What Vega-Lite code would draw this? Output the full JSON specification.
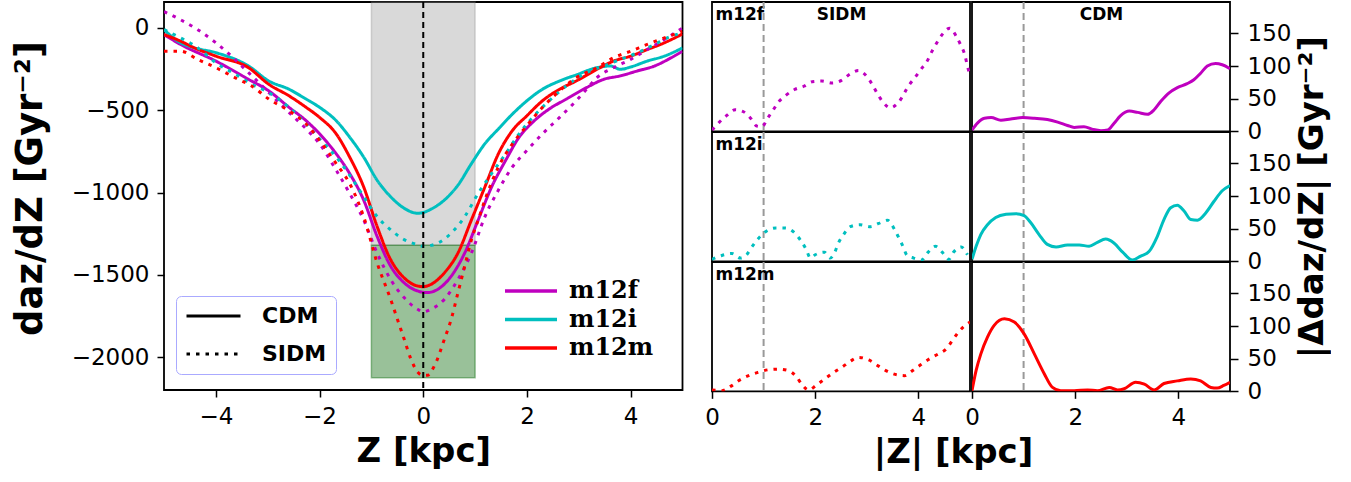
{
  "$schema": "https://vega.github.io/schema/vega-lite/v6.json",
  "background": "white",
  "padding": {"left": 10, "top": 0, "right": 0, "bottom": 0},
  "config": {
    "font": "DejaVu Sans",
    "view": {"stroke": "black", "strokeWidth": 1.8},
    "axis": {
      "grid": false, "domain": false,
      "tickColor": "black", "tickWidth": 1.5, "tickSize": 7,
      "labelFont": "DejaVu Sans", "labelFontSize": 23, "labelColor": "black",
      "labelPadding": 8, "labelFlush": false,
      "titleFont": "DejaVu Sans", "titleFontSize": 34, "titleFontWeight": "bold", "titleColor": "black"
    },
    "legend": {"title": null}
  },
  "datasets": {
    "bands": [
      {"band": "outer", "z": -1, "z_end": 1, "acc": -1320, "acc_end": 158},
      {"band": "inner", "z": -1, "z_end": 1, "acc": -2125, "acc_end": -1320}
    ],
    "midplane": [{"z": 0}],
    "cut": [{"z": 1}],
    "profile": [
      {"h":"m12f","m":"CDM","z":-5,"acc":-40},{"h":"m12f","m":"CDM","z":-4.68,"acc":-100},{"h":"m12f","m":"CDM","z":-4,"acc":-201},{"h":"m12f","m":"CDM","z":-3.37,"acc":-312},{"h":"m12f","m":"CDM","z":-2.98,"acc":-382},{"h":"m12f","m":"CDM","z":-2.59,"acc":-482},{"h":"m12f","m":"CDM","z":-2.26,"acc":-563},{"h":"m12f","m":"CDM","z":-2,"acc":-643},{"h":"m12f","m":"CDM","z":-1.68,"acc":-764},{"h":"m12f","m":"CDM","z":-1.42,"acc":-884},{"h":"m12f","m":"CDM","z":-1.15,"acc":-1045},{"h":"m12f","m":"CDM","z":-0.89,"acc":-1266},{"h":"m12f","m":"CDM","z":-0.63,"acc":-1447},{"h":"m12f","m":"CDM","z":-0.37,"acc":-1548},{"h":"m12f","m":"CDM","z":-0.11,"acc":-1598},{"h":"m12f","m":"CDM","z":0.08,"acc":-1608},{"h":"m12f","m":"CDM","z":0.28,"acc":-1588},{"h":"m12f","m":"CDM","z":0.54,"acc":-1508},{"h":"m12f","m":"CDM","z":0.8,"acc":-1367},{"h":"m12f","m":"CDM","z":1.06,"acc":-1166},{"h":"m12f","m":"CDM","z":1.32,"acc":-965},{"h":"m12f","m":"CDM","z":1.59,"acc":-804},{"h":"m12f","m":"CDM","z":1.85,"acc":-663},{"h":"m12f","m":"CDM","z":2.11,"acc":-573},{"h":"m12f","m":"CDM","z":2.43,"acc":-492},{"h":"m12f","m":"CDM","z":2.76,"acc":-432},{"h":"m12f","m":"CDM","z":3.15,"acc":-362},{"h":"m12f","m":"CDM","z":3.48,"acc":-312},{"h":"m12f","m":"CDM","z":3.8,"acc":-291},{"h":"m12f","m":"CDM","z":4.13,"acc":-261},{"h":"m12f","m":"CDM","z":4.46,"acc":-231},{"h":"m12f","m":"CDM","z":4.78,"acc":-181},{"h":"m12f","m":"CDM","z":5,"acc":-141},
      {"h":"m12i","m":"CDM","z":-5,"acc":-10},{"h":"m12i","m":"CDM","z":-4.68,"acc":-90},{"h":"m12i","m":"CDM","z":-4.42,"acc":-120},{"h":"m12i","m":"CDM","z":-4,"acc":-150},{"h":"m12i","m":"CDM","z":-3.37,"acc":-231},{"h":"m12i","m":"CDM","z":-2.98,"acc":-322},{"h":"m12i","m":"CDM","z":-2.59,"acc":-372},{"h":"m12i","m":"CDM","z":-2.26,"acc":-432},{"h":"m12i","m":"CDM","z":-2,"acc":-482},{"h":"m12i","m":"CDM","z":-1.68,"acc":-563},{"h":"m12i","m":"CDM","z":-1.42,"acc":-663},{"h":"m12i","m":"CDM","z":-1.15,"acc":-784},{"h":"m12i","m":"CDM","z":-0.89,"acc":-925},{"h":"m12i","m":"CDM","z":-0.63,"acc":-1025},{"h":"m12i","m":"CDM","z":-0.37,"acc":-1095},{"h":"m12i","m":"CDM","z":-0.11,"acc":-1126},{"h":"m12i","m":"CDM","z":0,"acc":-1121},{"h":"m12i","m":"CDM","z":0.15,"acc":-1101},{"h":"m12i","m":"CDM","z":0.41,"acc":-1045},{"h":"m12i","m":"CDM","z":0.67,"acc":-955},{"h":"m12i","m":"CDM","z":0.93,"acc":-824},{"h":"m12i","m":"CDM","z":1.19,"acc":-703},{"h":"m12i","m":"CDM","z":1.45,"acc":-613},{"h":"m12i","m":"CDM","z":1.72,"acc":-523},{"h":"m12i","m":"CDM","z":2,"acc":-442},{"h":"m12i","m":"CDM","z":2.3,"acc":-372},{"h":"m12i","m":"CDM","z":2.63,"acc":-322},{"h":"m12i","m":"CDM","z":2.95,"acc":-285},{"h":"m12i","m":"CDM","z":3.35,"acc":-241},{"h":"m12i","m":"CDM","z":3.61,"acc":-231},{"h":"m12i","m":"CDM","z":3.8,"acc":-251},{"h":"m12i","m":"CDM","z":4,"acc":-237},{"h":"m12i","m":"CDM","z":4.32,"acc":-201},{"h":"m12i","m":"CDM","z":4.65,"acc":-171},{"h":"m12i","m":"CDM","z":5,"acc":-121},
      {"h":"m12m","m":"CDM","z":-5,"acc":-40},{"h":"m12m","m":"CDM","z":-4.68,"acc":-80},{"h":"m12m","m":"CDM","z":-4.42,"acc":-120},{"h":"m12m","m":"CDM","z":-4,"acc":-171},{"h":"m12m","m":"CDM","z":-3.37,"acc":-241},{"h":"m12m","m":"CDM","z":-2.98,"acc":-342},{"h":"m12m","m":"CDM","z":-2.59,"acc":-412},{"h":"m12m","m":"CDM","z":-2.26,"acc":-482},{"h":"m12m","m":"CDM","z":-2,"acc":-543},{"h":"m12m","m":"CDM","z":-1.68,"acc":-643},{"h":"m12m","m":"CDM","z":-1.42,"acc":-784},{"h":"m12m","m":"CDM","z":-1.15,"acc":-965},{"h":"m12m","m":"CDM","z":-0.89,"acc":-1206},{"h":"m12m","m":"CDM","z":-0.63,"acc":-1407},{"h":"m12m","m":"CDM","z":-0.37,"acc":-1518},{"h":"m12m","m":"CDM","z":-0.11,"acc":-1568},{"h":"m12m","m":"CDM","z":0,"acc":-1572},{"h":"m12m","m":"CDM","z":0.15,"acc":-1558},{"h":"m12m","m":"CDM","z":0.41,"acc":-1487},{"h":"m12m","m":"CDM","z":0.67,"acc":-1367},{"h":"m12m","m":"CDM","z":0.93,"acc":-1166},{"h":"m12m","m":"CDM","z":1.19,"acc":-965},{"h":"m12m","m":"CDM","z":1.45,"acc":-764},{"h":"m12m","m":"CDM","z":1.72,"acc":-623},{"h":"m12m","m":"CDM","z":2,"acc":-533},{"h":"m12m","m":"CDM","z":2.3,"acc":-442},{"h":"m12m","m":"CDM","z":2.63,"acc":-372},{"h":"m12m","m":"CDM","z":2.95,"acc":-322},{"h":"m12m","m":"CDM","z":3.35,"acc":-251},{"h":"m12m","m":"CDM","z":3.67,"acc":-201},{"h":"m12m","m":"CDM","z":4,"acc":-171},{"h":"m12m","m":"CDM","z":4.32,"acc":-131},{"h":"m12m","m":"CDM","z":4.65,"acc":-90},{"h":"m12m","m":"CDM","z":5,"acc":-36},
      {"h":"m12f","m":"SIDM","z":-5,"acc":100},{"h":"m12f","m":"SIDM","z":-4.68,"acc":50},{"h":"m12f","m":"SIDM","z":-4.35,"acc":-10},{"h":"m12f","m":"SIDM","z":-4,"acc":-90},{"h":"m12f","m":"SIDM","z":-3.7,"acc":-171},{"h":"m12f","m":"SIDM","z":-3.37,"acc":-271},{"h":"m12f","m":"SIDM","z":-2.98,"acc":-392},{"h":"m12f","m":"SIDM","z":-2.59,"acc":-513},{"h":"m12f","m":"SIDM","z":-2.26,"acc":-613},{"h":"m12f","m":"SIDM","z":-2,"acc":-704},{"h":"m12f","m":"SIDM","z":-1.68,"acc":-864},{"h":"m12f","m":"SIDM","z":-1.42,"acc":-1005},{"h":"m12f","m":"SIDM","z":-1.15,"acc":-1166},{"h":"m12f","m":"SIDM","z":-0.89,"acc":-1367},{"h":"m12f","m":"SIDM","z":-0.63,"acc":-1528},{"h":"m12f","m":"SIDM","z":-0.37,"acc":-1638},{"h":"m12f","m":"SIDM","z":-0.11,"acc":-1709},{"h":"m12f","m":"SIDM","z":0,"acc":-1725},{"h":"m12f","m":"SIDM","z":0.15,"acc":-1709},{"h":"m12f","m":"SIDM","z":0.41,"acc":-1648},{"h":"m12f","m":"SIDM","z":0.67,"acc":-1528},{"h":"m12f","m":"SIDM","z":0.93,"acc":-1367},{"h":"m12f","m":"SIDM","z":1.19,"acc":-1146},{"h":"m12f","m":"SIDM","z":1.45,"acc":-985},{"h":"m12f","m":"SIDM","z":1.72,"acc":-844},{"h":"m12f","m":"SIDM","z":2,"acc":-744},{"h":"m12f","m":"SIDM","z":2.3,"acc":-643},{"h":"m12f","m":"SIDM","z":2.63,"acc":-543},{"h":"m12f","m":"SIDM","z":2.95,"acc":-442},{"h":"m12f","m":"SIDM","z":3.15,"acc":-372},{"h":"m12f","m":"SIDM","z":3.35,"acc":-302},{"h":"m12f","m":"SIDM","z":3.67,"acc":-241},{"h":"m12f","m":"SIDM","z":4,"acc":-191},{"h":"m12f","m":"SIDM","z":4.32,"acc":-131},{"h":"m12f","m":"SIDM","z":4.65,"acc":-70},{"h":"m12f","m":"SIDM","z":5,"acc":0},
      {"h":"m12i","m":"SIDM","z":-5,"acc":-10},{"h":"m12i","m":"SIDM","z":-4.68,"acc":-60},{"h":"m12i","m":"SIDM","z":-4.35,"acc":-120},{"h":"m12i","m":"SIDM","z":-4,"acc":-211},{"h":"m12i","m":"SIDM","z":-3.57,"acc":-291},{"h":"m12i","m":"SIDM","z":-3.31,"acc":-342},{"h":"m12i","m":"SIDM","z":-2.98,"acc":-392},{"h":"m12i","m":"SIDM","z":-2.59,"acc":-482},{"h":"m12i","m":"SIDM","z":-2.26,"acc":-583},{"h":"m12i","m":"SIDM","z":-2,"acc":-673},{"h":"m12i","m":"SIDM","z":-1.68,"acc":-784},{"h":"m12i","m":"SIDM","z":-1.42,"acc":-894},{"h":"m12i","m":"SIDM","z":-1.15,"acc":-1025},{"h":"m12i","m":"SIDM","z":-0.89,"acc":-1146},{"h":"m12i","m":"SIDM","z":-0.63,"acc":-1226},{"h":"m12i","m":"SIDM","z":-0.37,"acc":-1286},{"h":"m12i","m":"SIDM","z":-0.11,"acc":-1317},{"h":"m12i","m":"SIDM","z":0,"acc":-1327},{"h":"m12i","m":"SIDM","z":0.28,"acc":-1307},{"h":"m12i","m":"SIDM","z":0.54,"acc":-1246},{"h":"m12i","m":"SIDM","z":0.8,"acc":-1146},{"h":"m12i","m":"SIDM","z":1.06,"acc":-1005},{"h":"m12i","m":"SIDM","z":1.32,"acc":-884},{"h":"m12i","m":"SIDM","z":1.59,"acc":-764},{"h":"m12i","m":"SIDM","z":1.85,"acc":-643},{"h":"m12i","m":"SIDM","z":2.11,"acc":-543},{"h":"m12i","m":"SIDM","z":2.43,"acc":-442},{"h":"m12i","m":"SIDM","z":2.76,"acc":-352},{"h":"m12i","m":"SIDM","z":3.15,"acc":-271},{"h":"m12i","m":"SIDM","z":3.48,"acc":-231},{"h":"m12i","m":"SIDM","z":3.8,"acc":-191},{"h":"m12i","m":"SIDM","z":4.13,"acc":-151},{"h":"m12i","m":"SIDM","z":4.46,"acc":-100},{"h":"m12i","m":"SIDM","z":4.78,"acc":-50},{"h":"m12i","m":"SIDM","z":5,"acc":-30},
      {"h":"m12m","m":"SIDM","z":-5,"acc":-141},{"h":"m12m","m":"SIDM","z":-4.68,"acc":-141},{"h":"m12m","m":"SIDM","z":-4.35,"acc":-191},{"h":"m12m","m":"SIDM","z":-4,"acc":-241},{"h":"m12m","m":"SIDM","z":-3.57,"acc":-312},{"h":"m12m","m":"SIDM","z":-3.31,"acc":-352},{"h":"m12m","m":"SIDM","z":-2.98,"acc":-432},{"h":"m12m","m":"SIDM","z":-2.59,"acc":-503},{"h":"m12m","m":"SIDM","z":-2.26,"acc":-583},{"h":"m12m","m":"SIDM","z":-2,"acc":-683},{"h":"m12m","m":"SIDM","z":-1.68,"acc":-824},{"h":"m12m","m":"SIDM","z":-1.42,"acc":-945},{"h":"m12m","m":"SIDM","z":-1.15,"acc":-1146},{"h":"m12m","m":"SIDM","z":-0.89,"acc":-1427},{"h":"m12m","m":"SIDM","z":-0.63,"acc":-1648},{"h":"m12m","m":"SIDM","z":-0.5,"acc":-1769},{"h":"m12m","m":"SIDM","z":-0.37,"acc":-1889},{"h":"m12m","m":"SIDM","z":-0.24,"acc":-2010},{"h":"m12m","m":"SIDM","z":-0.11,"acc":-2090},{"h":"m12m","m":"SIDM","z":0,"acc":-2111},{"h":"m12m","m":"SIDM","z":0.08,"acc":-2111},{"h":"m12m","m":"SIDM","z":0.22,"acc":-2050},{"h":"m12m","m":"SIDM","z":0.41,"acc":-1889},{"h":"m12m","m":"SIDM","z":0.54,"acc":-1769},{"h":"m12m","m":"SIDM","z":0.67,"acc":-1608},{"h":"m12m","m":"SIDM","z":0.8,"acc":-1447},{"h":"m12m","m":"SIDM","z":0.93,"acc":-1286},{"h":"m12m","m":"SIDM","z":1.06,"acc":-1166},{"h":"m12m","m":"SIDM","z":1.19,"acc":-1045},{"h":"m12m","m":"SIDM","z":1.45,"acc":-844},{"h":"m12m","m":"SIDM","z":1.72,"acc":-704},{"h":"m12m","m":"SIDM","z":2,"acc":-593},{"h":"m12m","m":"SIDM","z":2.3,"acc":-482},{"h":"m12m","m":"SIDM","z":2.63,"acc":-382},{"h":"m12m","m":"SIDM","z":2.95,"acc":-302},{"h":"m12m","m":"SIDM","z":3.35,"acc":-241},{"h":"m12m","m":"SIDM","z":3.67,"acc":-181},{"h":"m12m","m":"SIDM","z":4,"acc":-141},{"h":"m12m","m":"SIDM","z":4.32,"acc":-100},{"h":"m12m","m":"SIDM","z":4.65,"acc":-60},{"h":"m12m","m":"SIDM","z":5,"acc":-20}
    ],
    "residual": [
      {"h":"m12f","m":"SIDM","z":0,"d":2},{"h":"m12f","m":"SIDM","z":0.13,"d":13},{"h":"m12f","m":"SIDM","z":0.28,"d":24},{"h":"m12f","m":"SIDM","z":0.45,"d":33},{"h":"m12f","m":"SIDM","z":0.61,"d":30},{"h":"m12f","m":"SIDM","z":0.76,"d":19},{"h":"m12f","m":"SIDM","z":0.87,"d":8},{"h":"m12f","m":"SIDM","z":0.97,"d":7},{"h":"m12f","m":"SIDM","z":1.07,"d":19},{"h":"m12f","m":"SIDM","z":1.18,"d":32},{"h":"m12f","m":"SIDM","z":1.29,"d":45},{"h":"m12f","m":"SIDM","z":1.43,"d":55},{"h":"m12f","m":"SIDM","z":1.6,"d":64},{"h":"m12f","m":"SIDM","z":1.78,"d":69},{"h":"m12f","m":"SIDM","z":1.94,"d":76},{"h":"m12f","m":"SIDM","z":2.13,"d":77},{"h":"m12f","m":"SIDM","z":2.33,"d":74},{"h":"m12f","m":"SIDM","z":2.51,"d":78},{"h":"m12f","m":"SIDM","z":2.68,"d":88},{"h":"m12f","m":"SIDM","z":2.84,"d":93},{"h":"m12f","m":"SIDM","z":3.0,"d":84},{"h":"m12f","m":"SIDM","z":3.11,"d":71},{"h":"m12f","m":"SIDM","z":3.21,"d":57},{"h":"m12f","m":"SIDM","z":3.31,"d":45},{"h":"m12f","m":"SIDM","z":3.46,"d":36},{"h":"m12f","m":"SIDM","z":3.62,"d":45},{"h":"m12f","m":"SIDM","z":3.82,"d":71},{"h":"m12f","m":"SIDM","z":3.94,"d":83},{"h":"m12f","m":"SIDM","z":4.06,"d":96},{"h":"m12f","m":"SIDM","z":4.18,"d":109},{"h":"m12f","m":"SIDM","z":4.26,"d":122},{"h":"m12f","m":"SIDM","z":4.36,"d":136},{"h":"m12f","m":"SIDM","z":4.46,"d":148},{"h":"m12f","m":"SIDM","z":4.61,"d":158},{"h":"m12f","m":"SIDM","z":4.73,"d":146},{"h":"m12f","m":"SIDM","z":4.82,"d":132},{"h":"m12f","m":"SIDM","z":4.9,"d":117},{"h":"m12f","m":"SIDM","z":4.95,"d":100},{"h":"m12f","m":"SIDM","z":5,"d":86},
      {"h":"m12i","m":"SIDM","z":0,"d":3},{"h":"m12i","m":"SIDM","z":0.19,"d":9},{"h":"m12i","m":"SIDM","z":0.39,"d":12},{"h":"m12i","m":"SIDM","z":0.55,"d":5},{"h":"m12i","m":"SIDM","z":0.67,"d":10},{"h":"m12i","m":"SIDM","z":0.78,"d":23},{"h":"m12i","m":"SIDM","z":0.9,"d":35},{"h":"m12i","m":"SIDM","z":1.03,"d":45},{"h":"m12i","m":"SIDM","z":1.24,"d":51},{"h":"m12i","m":"SIDM","z":1.42,"d":51},{"h":"m12i","m":"SIDM","z":1.58,"d":45},{"h":"m12i","m":"SIDM","z":1.71,"d":33},{"h":"m12i","m":"SIDM","z":1.82,"d":19},{"h":"m12i","m":"SIDM","z":1.91,"d":5},{"h":"m12i","m":"SIDM","z":2.0,"d":10},{"h":"m12i","m":"SIDM","z":2.18,"d":14},{"h":"m12i","m":"SIDM","z":2.29,"d":5},{"h":"m12i","m":"SIDM","z":2.38,"d":14},{"h":"m12i","m":"SIDM","z":2.45,"d":28},{"h":"m12i","m":"SIDM","z":2.55,"d":41},{"h":"m12i","m":"SIDM","z":2.68,"d":53},{"h":"m12i","m":"SIDM","z":2.87,"d":56},{"h":"m12i","m":"SIDM","z":3.07,"d":53},{"h":"m12i","m":"SIDM","z":3.23,"d":58},{"h":"m12i","m":"SIDM","z":3.4,"d":63},{"h":"m12i","m":"SIDM","z":3.53,"d":50},{"h":"m12i","m":"SIDM","z":3.62,"d":36},{"h":"m12i","m":"SIDM","z":3.7,"d":23},{"h":"m12i","m":"SIDM","z":3.78,"d":9},{"h":"m12i","m":"SIDM","z":3.91,"d":5},{"h":"m12i","m":"SIDM","z":4.06,"d":2},{"h":"m12i","m":"SIDM","z":4.19,"d":14},{"h":"m12i","m":"SIDM","z":4.33,"d":23},{"h":"m12i","m":"SIDM","z":4.46,"d":14},{"h":"m12i","m":"SIDM","z":4.59,"d":3},{"h":"m12i","m":"SIDM","z":4.68,"d":14},{"h":"m12i","m":"SIDM","z":4.83,"d":22},{"h":"m12i","m":"SIDM","z":4.95,"d":10},
      {"h":"m12m","m":"SIDM","z":0,"d":2},{"h":"m12m","m":"SIDM","z":0.19,"d":1},{"h":"m12m","m":"SIDM","z":0.37,"d":8},{"h":"m12m","m":"SIDM","z":0.53,"d":17},{"h":"m12m","m":"SIDM","z":0.71,"d":24},{"h":"m12m","m":"SIDM","z":0.89,"d":29},{"h":"m12m","m":"SIDM","z":1.09,"d":33},{"h":"m12m","m":"SIDM","z":1.28,"d":34},{"h":"m12m","m":"SIDM","z":1.47,"d":32},{"h":"m12m","m":"SIDM","z":1.63,"d":23},{"h":"m12m","m":"SIDM","z":1.74,"d":11},{"h":"m12m","m":"SIDM","z":1.87,"d":2},{"h":"m12m","m":"SIDM","z":2.03,"d":10},{"h":"m12m","m":"SIDM","z":2.2,"d":20},{"h":"m12m","m":"SIDM","z":2.36,"d":29},{"h":"m12m","m":"SIDM","z":2.52,"d":37},{"h":"m12m","m":"SIDM","z":2.68,"d":46},{"h":"m12m","m":"SIDM","z":2.84,"d":52},{"h":"m12m","m":"SIDM","z":3.04,"d":48},{"h":"m12m","m":"SIDM","z":3.22,"d":39},{"h":"m12m","m":"SIDM","z":3.39,"d":31},{"h":"m12m","m":"SIDM","z":3.55,"d":26},{"h":"m12m","m":"SIDM","z":3.73,"d":24},{"h":"m12m","m":"SIDM","z":3.89,"d":32},{"h":"m12m","m":"SIDM","z":4.05,"d":41},{"h":"m12m","m":"SIDM","z":4.22,"d":50},{"h":"m12m","m":"SIDM","z":4.38,"d":57},{"h":"m12m","m":"SIDM","z":4.54,"d":65},{"h":"m12m","m":"SIDM","z":4.66,"d":78},{"h":"m12m","m":"SIDM","z":4.78,"d":91},{"h":"m12m","m":"SIDM","z":4.94,"d":103},{"h":"m12m","m":"SIDM","z":5,"d":106},
      {"h":"m12f","m":"CDM","z":0,"d":2},{"h":"m12f","m":"CDM","z":0.11,"d":13},{"h":"m12f","m":"CDM","z":0.24,"d":20},{"h":"m12f","m":"CDM","z":0.37,"d":21},{"h":"m12f","m":"CDM","z":0.56,"d":17},{"h":"m12f","m":"CDM","z":0.75,"d":19},{"h":"m12f","m":"CDM","z":0.98,"d":21},{"h":"m12f","m":"CDM","z":1.21,"d":20},{"h":"m12f","m":"CDM","z":1.46,"d":18},{"h":"m12f","m":"CDM","z":1.66,"d":14},{"h":"m12f","m":"CDM","z":1.85,"d":9},{"h":"m12f","m":"CDM","z":1.98,"d":6},{"h":"m12f","m":"CDM","z":2.17,"d":7},{"h":"m12f","m":"CDM","z":2.34,"d":3},{"h":"m12f","m":"CDM","z":2.5,"d":1},{"h":"m12f","m":"CDM","z":2.63,"d":2},{"h":"m12f","m":"CDM","z":2.75,"d":12},{"h":"m12f","m":"CDM","z":2.88,"d":24},{"h":"m12f","m":"CDM","z":3.05,"d":31},{"h":"m12f","m":"CDM","z":3.21,"d":29},{"h":"m12f","m":"CDM","z":3.4,"d":26},{"h":"m12f","m":"CDM","z":3.53,"d":33},{"h":"m12f","m":"CDM","z":3.66,"d":46},{"h":"m12f","m":"CDM","z":3.82,"d":59},{"h":"m12f","m":"CDM","z":3.98,"d":67},{"h":"m12f","m":"CDM","z":4.17,"d":73},{"h":"m12f","m":"CDM","z":4.3,"d":79},{"h":"m12f","m":"CDM","z":4.43,"d":89},{"h":"m12f","m":"CDM","z":4.56,"d":100},{"h":"m12f","m":"CDM","z":4.72,"d":104},{"h":"m12f","m":"CDM","z":4.85,"d":102},{"h":"m12f","m":"CDM","z":5,"d":96},
      {"h":"m12i","m":"CDM","z":0,"d":3},{"h":"m12i","m":"CDM","z":0.08,"d":23},{"h":"m12i","m":"CDM","z":0.17,"d":41},{"h":"m12i","m":"CDM","z":0.3,"d":56},{"h":"m12i","m":"CDM","z":0.46,"d":67},{"h":"m12i","m":"CDM","z":0.66,"d":72},{"h":"m12i","m":"CDM","z":0.85,"d":73},{"h":"m12i","m":"CDM","z":1.01,"d":70},{"h":"m12i","m":"CDM","z":1.14,"d":59},{"h":"m12i","m":"CDM","z":1.3,"d":41},{"h":"m12i","m":"CDM","z":1.46,"d":26},{"h":"m12i","m":"CDM","z":1.63,"d":22},{"h":"m12i","m":"CDM","z":1.85,"d":25},{"h":"m12i","m":"CDM","z":2.08,"d":25},{"h":"m12i","m":"CDM","z":2.27,"d":23},{"h":"m12i","m":"CDM","z":2.43,"d":29},{"h":"m12i","m":"CDM","z":2.59,"d":34},{"h":"m12i","m":"CDM","z":2.75,"d":28},{"h":"m12i","m":"CDM","z":2.92,"d":14},{"h":"m12i","m":"CDM","z":3.11,"d":2},{"h":"m12i","m":"CDM","z":3.27,"d":8},{"h":"m12i","m":"CDM","z":3.43,"d":15},{"h":"m12i","m":"CDM","z":3.59,"d":38},{"h":"m12i","m":"CDM","z":3.72,"d":64},{"h":"m12i","m":"CDM","z":3.85,"d":82},{"h":"m12i","m":"CDM","z":3.98,"d":86},{"h":"m12i","m":"CDM","z":4.11,"d":77},{"h":"m12i","m":"CDM","z":4.24,"d":64},{"h":"m12i","m":"CDM","z":4.37,"d":63},{"h":"m12i","m":"CDM","z":4.53,"d":74},{"h":"m12i","m":"CDM","z":4.69,"d":92},{"h":"m12i","m":"CDM","z":4.85,"d":108},{"h":"m12i","m":"CDM","z":5,"d":116},
      {"h":"m12m","m":"CDM","z":0,"d":1},{"h":"m12m","m":"CDM","z":0.08,"d":32},{"h":"m12m","m":"CDM","z":0.17,"d":57},{"h":"m12m","m":"CDM","z":0.3,"d":83},{"h":"m12m","m":"CDM","z":0.43,"d":101},{"h":"m12m","m":"CDM","z":0.63,"d":111},{"h":"m12m","m":"CDM","z":0.82,"d":106},{"h":"m12m","m":"CDM","z":1.01,"d":88},{"h":"m12m","m":"CDM","z":1.21,"d":57},{"h":"m12m","m":"CDM","z":1.4,"d":27},{"h":"m12m","m":"CDM","z":1.56,"d":6},{"h":"m12m","m":"CDM","z":1.72,"d":1},{"h":"m12m","m":"CDM","z":1.98,"d":1},{"h":"m12m","m":"CDM","z":2.24,"d":2},{"h":"m12m","m":"CDM","z":2.43,"d":1},{"h":"m12m","m":"CDM","z":2.66,"d":6},{"h":"m12m","m":"CDM","z":2.82,"d":2},{"h":"m12m","m":"CDM","z":2.95,"d":4},{"h":"m12m","m":"CDM","z":3.17,"d":14},{"h":"m12m","m":"CDM","z":3.34,"d":11},{"h":"m12m","m":"CDM","z":3.53,"d":2},{"h":"m12m","m":"CDM","z":3.72,"d":12},{"h":"m12m","m":"CDM","z":3.98,"d":16},{"h":"m12m","m":"CDM","z":4.24,"d":19},{"h":"m12m","m":"CDM","z":4.43,"d":16},{"h":"m12m","m":"CDM","z":4.63,"d":6},{"h":"m12m","m":"CDM","z":4.75,"d":5},{"h":"m12m","m":"CDM","z":4.88,"d":9},{"h":"m12m","m":"CDM","z":5,"d":14}
    ]
  },
  "spacing": 19,
  "hconcat": [
    {
      "width": 518.5,
      "height": 388,
      "layer": [
        {
          "data": {"name": "bands"},
          "transform": [{"filter": "datum.band === 'outer'"}],
          "mark": {"type": "rect", "fill": "#808080", "fillOpacity": 0.3, "stroke": "#808080", "strokeOpacity": 0.3, "strokeWidth": 1.5},
          "encoding": {
            "x": {"field": "z", "type": "quantitative", "scale": {"domain": [-5, 5], "nice": false, "zero": false}, "axis": {"title": "Z [kpc]"}},
            "x2": {"field": "z_end"},
            "y": {"field": "acc", "type": "quantitative", "scale": {"domain": [-2200, 158], "nice": false, "zero": false}, "axis": {"title": "daz/dZ [Gyr⁻²]"}},
            "y2": {"field": "acc_end"}
          }
        },
        {
          "data": {"name": "bands"},
          "transform": [{"filter": "datum.band === 'inner'"}],
          "mark": {"type": "rect", "fill": "#006400", "fillOpacity": 0.4, "stroke": "#006400", "strokeOpacity": 0.4, "strokeWidth": 1.5},
          "encoding": {
            "x": {"field": "z", "type": "quantitative", "axis": {"title": "Z [kpc]"}},
            "x2": {"field": "z_end"},
            "y": {"field": "acc", "type": "quantitative", "axis": {"title": "daz/dZ [Gyr⁻²]"}},
            "y2": {"field": "acc_end"}
          }
        },
        {
          "data": {"name": "profile"},
          "mark": {"type": "line", "strokeWidth": 3, "interpolate": "monotone", "clip": true, "strokeCap": "butt"},
          "encoding": {
            "x": {"field": "z", "type": "quantitative",
                  "axis": {"title": "Z [kpc]", "values": [-4, -2, 0, 2, 4], "titlePadding": 6}},
            "y": {"field": "acc", "type": "quantitative",
                  "axis": {"title": "daz/dZ [Gyr⁻²]", "values": [-2000, -1500, -1000, -500, 0], "format": "d", "titlePadding": 22, "titleFontSize": 37, "titleY": 186}},
            "color": {
              "field": "h", "type": "nominal",
              "scale": {"domain": ["m12f", "m12i", "m12m"], "range": ["#bf00bf", "#00bfbf", "#ff0000"]},
              "legend": {
                "orient": "none", "legendX": 339, "legendY": 277, "padding": 0,
                "symbolType": "stroke", "symbolSize": 2704, "symbolStrokeWidth": 3.5,
                "clipHeight": 24, "rowPadding": 4.5, "labelOffset": 10,
                "labelFont": "DejaVu Serif", "labelFontWeight": "bold", "labelFontSize": 24, "labelColor": "black"
              }
            },
            "strokeDash": {
              "field": "m", "type": "nominal",
              "scale": {"domain": ["CDM", "SIDM"], "range": [[1, 0], [3.5, 6]]},
              "legend": {
                "orient": "none", "legendX": 12, "legendY": 294, "padding": 9,
                "symbolType": "stroke", "symbolSize": 2916, "symbolStrokeWidth": 3, "symbolStrokeColor": "black",
                "clipHeight": 22, "rowPadding": 16, "labelOffset": 20,
                "labelFont": "DejaVu Sans", "labelFontWeight": "bold", "labelFontSize": 22, "labelColor": "black",
                "strokeColor": "#aaaaff", "fillColor": "white", "cornerRadius": 5
              }
            },
            "detail": {"field": "m"}
          }
        },
        {
          "data": {"name": "midplane"},
          "mark": {"type": "rule", "color": "black", "strokeWidth": 2, "strokeDash": [6, 4]},
          "encoding": {"x": {"field": "z", "type": "quantitative", "axis": {"title": "Z [kpc]"}}}
        }
      ]
    },
    {
      "columns": 2,
      "spacing": {"row": 0, "column": 2},
      "bounds": "flush",
      "concat": [
        {
          "width": 258, "height": 129.33,
          "layer": [
            {
              "data": {"name": "cut"},
              "mark": {"type": "rule", "color": "#999999", "strokeWidth": 2, "strokeDash": [7, 4]},
              "encoding": {"x": {"field": "z", "type": "quantitative", "scale": {"domain": [0, 5], "nice": false},
                "axis": {"orient": "top", "title": "SIDM", "labels": false, "ticks": false, "titleX": 129, "titleY": 17, "titleAlign": "center", "titleBaseline": "alphabetic", "titleFontSize": 17}}}
            },
            {
              "data": {"name": "residual"},
              "transform": [{"filter": "datum.h === 'm12f' && datum.m === 'SIDM'"}],
              "mark": {"type": "line", "color": "#bf00bf", "strokeWidth": 3, "strokeDash": [3.5, 6], "interpolate": "monotone", "clip": true},
              "encoding": {
                "x": {"field": "z", "type": "quantitative"},
                "y": {"field": "d", "type": "quantitative", "scale": {"domain": [0, 198], "nice": false},
                  "axis": {"orient": "left", "title": "m12f", "labels": false, "ticks": false, "titleAngle": 0, "titleX": 3, "titleY": 17, "titleAlign": "left", "titleBaseline": "alphabetic", "titleFontSize": 17}}
              }
            }
          ]
        },
        {
          "width": 258, "height": 129.33,
          "layer": [
            {
              "data": {"name": "cut"},
              "mark": {"type": "rule", "color": "#999999", "strokeWidth": 2, "strokeDash": [7, 4]},
              "encoding": {"x": {"field": "z", "type": "quantitative", "scale": {"domain": [0, 5], "nice": false},
                "axis": {"orient": "top", "title": "CDM", "labels": false, "ticks": false, "titleX": 129, "titleY": 17, "titleAlign": "center", "titleBaseline": "alphabetic", "titleFontSize": 17}}}
            },
            {
              "data": {"name": "residual"},
              "transform": [{"filter": "datum.h === 'm12f' && datum.m === 'CDM'"}],
              "mark": {"type": "line", "color": "#bf00bf", "strokeWidth": 3, "interpolate": "monotone", "clip": true},
              "encoding": {
                "x": {"field": "z", "type": "quantitative"},
                "y": {"field": "d", "type": "quantitative", "scale": {"domain": [0, 198], "nice": false},
                  "axis": {"orient": "right", "title": null, "values": [0, 50, 100, 150], "tickSize": 8, "labelPadding": 9}}
              }
            }
          ]
        },
        {
          "width": 258, "height": 129.33,
          "layer": [
            {
              "data": {"name": "cut"},
              "mark": {"type": "rule", "color": "#999999", "strokeWidth": 2, "strokeDash": [7, 4]},
              "encoding": {"x": {"field": "z", "type": "quantitative", "scale": {"domain": [0, 5], "nice": false}, "axis": null}}
            },
            {
              "data": {"name": "residual"},
              "transform": [{"filter": "datum.h === 'm12i' && datum.m === 'SIDM'"}],
              "mark": {"type": "line", "color": "#00bfbf", "strokeWidth": 3, "strokeDash": [3.5, 6], "interpolate": "monotone", "clip": true},
              "encoding": {
                "x": {"field": "z", "type": "quantitative", "axis": null},
                "y": {"field": "d", "type": "quantitative", "scale": {"domain": [0, 198], "nice": false},
                  "axis": {"orient": "left", "title": "m12i", "labels": false, "ticks": false, "titleAngle": 0, "titleX": 3, "titleY": 17, "titleAlign": "left", "titleBaseline": "alphabetic", "titleFontSize": 17}}
              }
            }
          ]
        },
        {
          "width": 258, "height": 129.33,
          "layer": [
            {
              "data": {"name": "cut"},
              "mark": {"type": "rule", "color": "#999999", "strokeWidth": 2, "strokeDash": [7, 4]},
              "encoding": {"x": {"field": "z", "type": "quantitative", "scale": {"domain": [0, 5], "nice": false}, "axis": null}}
            },
            {
              "data": {"name": "residual"},
              "transform": [{"filter": "datum.h === 'm12i' && datum.m === 'CDM'"}],
              "mark": {"type": "line", "color": "#00bfbf", "strokeWidth": 3, "interpolate": "monotone", "clip": true},
              "encoding": {
                "x": {"field": "z", "type": "quantitative", "axis": null},
                "y": {"field": "d", "type": "quantitative", "scale": {"domain": [0, 198], "nice": false},
                  "axis": {"orient": "right", "title": "|Δdaz/dZ| [Gyr⁻²]", "titleAngle": 270, "titleBaseline": "top", "titleFontSize": 34, "titlePadding": 5, "values": [0, 50, 100, 150], "tickSize": 8, "labelPadding": 9}}
              }
            }
          ]
        },
        {
          "width": 258, "height": 129.33,
          "layer": [
            {
              "data": {"name": "cut"},
              "mark": {"type": "rule", "color": "#999999", "strokeWidth": 2, "strokeDash": [7, 4]},
              "encoding": {"x": {"field": "z", "type": "quantitative", "scale": {"domain": [0, 5], "nice": false},
                "axis": {"values": [0, 2, 4], "title": "|Z| [kpc]", "titleX": 241, "titleAlign": "center", "titlePadding": 6}}}
            },
            {
              "data": {"name": "residual"},
              "transform": [{"filter": "datum.h === 'm12m' && datum.m === 'SIDM'"}],
              "mark": {"type": "line", "color": "#ff0000", "strokeWidth": 3, "strokeDash": [3.5, 6], "interpolate": "monotone", "clip": true},
              "encoding": {
                "x": {"field": "z", "type": "quantitative"},
                "y": {"field": "d", "type": "quantitative", "scale": {"domain": [0, 198], "nice": false},
                  "axis": {"orient": "left", "title": "m12m", "labels": false, "ticks": false, "titleAngle": 0, "titleX": 3, "titleY": 17, "titleAlign": "left", "titleBaseline": "alphabetic", "titleFontSize": 17}}
              }
            }
          ]
        },
        {
          "width": 258, "height": 129.33,
          "layer": [
            {
              "data": {"name": "cut"},
              "mark": {"type": "rule", "color": "#999999", "strokeWidth": 2, "strokeDash": [7, 4]},
              "encoding": {"x": {"field": "z", "type": "quantitative", "scale": {"domain": [0, 5], "nice": false},
                "axis": {"values": [0, 2, 4], "title": null}}}
            },
            {
              "data": {"name": "residual"},
              "transform": [{"filter": "datum.h === 'm12m' && datum.m === 'CDM'"}],
              "mark": {"type": "line", "color": "#ff0000", "strokeWidth": 3, "interpolate": "monotone", "clip": true},
              "encoding": {
                "x": {"field": "z", "type": "quantitative"},
                "y": {"field": "d", "type": "quantitative", "scale": {"domain": [0, 198], "nice": false},
                  "axis": {"orient": "right", "title": null, "values": [0, 50, 100, 150], "tickSize": 8, "labelPadding": 9}}
              }
            }
          ]
        }
      ]
    }
  ]
}
